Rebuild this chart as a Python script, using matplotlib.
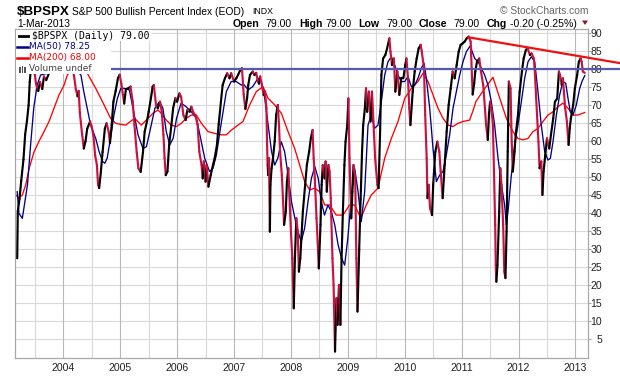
import matplotlib
matplotlib.use("Agg")
import matplotlib.pyplot as plt
import numpy as np
from matplotlib.collections import LineCollection
from matplotlib.patches import Rectangle, Polygon
from matplotlib.lines import Line2D

# ---------------- data (decimal years, index values) ----------------
price_dates = [
    2003.19, 2003.20, 2003.23, 2003.26, 2003.30, 2003.33, 2003.36, 2003.39, 2003.41, 2003.44,
    2003.47, 2003.50, 2003.52, 2003.56, 2003.59, 2003.63, 2003.66, 2003.70, 2003.75, 2003.80,
    2003.87, 2003.93, 2004.00, 2004.08, 2004.15, 2004.19, 2004.22, 2004.25, 2004.27, 2004.29,
    2004.33, 2004.36, 2004.39, 2004.42, 2004.47, 2004.50, 2004.53, 2004.56, 2004.59, 2004.61,
    2004.63, 2004.66, 2004.69, 2004.73, 2004.76, 2004.80, 2004.82, 2004.85, 2004.88, 2004.92,
    2004.96, 2004.99, 2005.02, 2005.07, 2005.10, 2005.14, 2005.18, 2005.22, 2005.25, 2005.29,
    2005.32, 2005.36, 2005.40, 2005.43, 2005.47, 2005.50, 2005.54, 2005.57, 2005.59, 2005.63,
    2005.66, 2005.70, 2005.73, 2005.76, 2005.78, 2005.80, 2005.83, 2005.86, 2005.90, 2005.93,
    2005.97, 2006.00, 2006.04, 2006.07, 2006.11, 2006.15, 2006.18, 2006.22, 2006.25, 2006.29,
    2006.32, 2006.36, 2006.39, 2006.43, 2006.45, 2006.47, 2006.50, 2006.52, 2006.55, 2006.59,
    2006.63, 2006.66, 2006.70, 2006.73, 2006.77, 2006.80, 2006.84, 2006.88, 2006.92, 2006.95,
    2007.00, 2007.04, 2007.07, 2007.11, 2007.14, 2007.17, 2007.20, 2007.23, 2007.25, 2007.28,
    2007.31, 2007.33, 2007.36, 2007.39, 2007.42, 2007.44, 2007.46, 2007.50, 2007.52, 2007.545,
    2007.57, 2007.58, 2007.59, 2007.60, 2007.615, 2007.63, 2007.64, 2007.66, 2007.685, 2007.715,
    2007.74, 2007.77, 2007.79, 2007.81, 2007.84, 2007.86, 2007.88, 2007.91, 2007.93, 2007.955,
    2007.98, 2008.00, 2008.025, 2008.05, 2008.07, 2008.095, 2008.12, 2008.14, 2008.165, 2008.19,
    2008.21, 2008.25, 2008.28, 2008.32, 2008.35, 2008.38, 2008.40, 2008.42, 2008.45, 2008.47,
    2008.49, 2008.52, 2008.54, 2008.56, 2008.59, 2008.61, 2008.63, 2008.66, 2008.68, 2008.70,
    2008.73, 2008.75, 2008.775, 2008.80, 2008.82, 2008.845, 2008.87, 2008.89, 2008.915, 2008.94,
    2008.96, 2008.99, 2009.01, 2009.03, 2009.06, 2009.08, 2009.10, 2009.13, 2009.15, 2009.17,
    2009.20, 2009.225, 2009.25, 2009.27, 2009.30, 2009.32, 2009.34, 2009.37, 2009.40, 2009.425,
    2009.45, 2009.48, 2009.52, 2009.54, 2009.566, 2009.59, 2009.62, 2009.66, 2009.69, 2009.73,
    2009.75, 2009.776, 2009.81, 2009.835, 2009.87, 2009.905, 2009.94, 2009.976, 2010.01, 2010.03,
    2010.058, 2010.08, 2010.10, 2010.14, 2010.175, 2010.21, 2010.245, 2010.28, 2010.30, 2010.339,
    2010.36, 2010.386, 2010.40, 2010.42, 2010.445, 2010.48, 2010.50, 2010.538, 2010.573, 2010.608,
    2010.632, 2010.667, 2010.702, 2010.737, 2010.772, 2010.808, 2010.843, 2010.878, 2010.913, 2010.948,
    2010.983, 2011.018, 2011.054, 2011.089, 2011.124, 2011.159, 2011.194, 2011.22, 2011.24, 2011.27,
    2011.31, 2011.34, 2011.38, 2011.41, 2011.43, 2011.46, 2011.48, 2011.50, 2011.53, 2011.55,
    2011.57, 2011.59, 2011.60, 2011.61, 2011.63, 2011.66, 2011.68, 2011.70, 2011.73, 2011.75,
    2011.77, 2011.79, 2011.81, 2011.83, 2011.86, 2011.88, 2011.90, 2011.93, 2011.95, 2011.99,
    2012.02, 2012.06, 2012.09, 2012.13, 2012.16, 2012.20, 2012.23, 2012.27, 2012.29, 2012.31,
    2012.35, 2012.37, 2012.40, 2012.42, 2012.44, 2012.47, 2012.50, 2012.54, 2012.57, 2012.61,
    2012.64, 2012.68, 2012.71, 2012.73, 2012.76, 2012.78, 2012.82, 2012.85, 2012.88, 2012.90,
    2012.92, 2012.96, 2012.99, 2013.03, 2013.06, 2013.09, 2013.11, 2013.13, 2013.164,
]
price_vals = [
    27.5, 40.5, 44, 49, 55, 62, 65.5, 70, 76.5, 82,
    84, 78.5, 76, 74, 76.5, 74.5, 78, 77, 79, 82,
    84, 83, 85, 83, 81, 78, 74.5, 72.5, 74, 68,
    62, 58, 60, 63.5, 65.5, 64, 61.5, 56, 53.5, 48,
    47, 51.5, 57, 63.5, 65, 62.5, 59.5, 64.5, 71, 74,
    77.5, 78.5, 76, 70.5, 74.5, 74.7, 75.2, 71, 64.6, 57,
    52.5, 51.5, 57, 62.7, 65.5, 68.2, 72, 75.2, 75.6, 70,
    69.2, 71, 68.2, 61.8, 55.3, 50.6, 51.6, 59, 64.6, 69.2,
    72, 71, 73.3, 72.4, 67.3, 65.9, 68.7, 68.2, 69.6, 67.8,
    67.3, 64.6, 57.1, 53.4, 49.7, 54.4, 48.8, 53.4, 47.4, 50.6,
    53.4, 55.3, 59, 64.6, 71, 75.6, 77.5, 78.9, 77.5, 78.9,
    76.6, 77.5, 78.4, 79.8, 80.3, 73, 69, 72, 75.6, 78.4,
    79, 79.4, 78.4, 79, 76.6, 76, 78, 74.7, 72.9, 73.8,
    69.2, 60, 53.4, 50.6, 55.3, 34.9, 47.9, 52.5, 55.3, 60,
    67.3, 70.1, 64.6, 57.1, 50.6, 44.2, 36.8, 40.5, 48.8, 52.5,
    42.3, 34.9, 27.5, 13.6, 27.5, 38.6, 34.9, 23.8, 27.5, 34.9,
    40.5, 47.9, 53.4, 57.1, 60.8, 63.1, 55.3, 49.7, 38.6, 32.1,
    24.7, 36.8, 47.9, 53.4, 49.7, 54.4, 46, 53.4, 51.6, 44.2,
    27.5, 20.1, 1.6, 16.4, 9, 20.1, 9, 27.5, 41.4, 53.4,
    59.9, 64.5, 71.9, 55.3, 38.6, 46, 53.4, 49.7, 27.5, 12.7,
    30, 44, 57.1, 64.5, 69.2, 74.7, 68.2, 73.8, 65.5, 73.8,
    65.5, 55.3, 47.9, 47, 61.8, 78.4, 83, 84, 85.8, 88.6,
    84.9, 81.2, 83, 73.8, 79.4, 72.9, 77.5, 77.5, 81.2, 83,
    77.5, 69.2, 64.5, 73.8, 79.4, 83, 85.8, 86.8, 84.9, 80.3,
    67.3, 55.3, 44.2, 47.9, 41.4, 39.5, 47.9, 57.1, 59.9, 57.1,
    51.6, 44.2, 53.4, 62.7, 70.1, 74.7, 79.4, 77.5, 81.2, 84.9,
    86.8, 87.2, 87.7, 88.6, 89.1, 87.7, 73, 76, 79.4, 82.1,
    83, 79.4, 75.6, 69.2, 64.5, 60.4, 67.3, 71, 68.2, 64.5,
    50.6, 36.8, 25.6, 21, 25.6, 40.5, 52.5, 47.9, 36.8, 23.8,
    22, 34.9, 57.1, 76.6, 74.7, 59.9, 51.6, 57.1, 61.8, 67.3,
    73.8, 79.4, 83, 85.4, 85.8, 84, 84.4, 83, 78.4, 72,
    59.9, 52.5, 54.4, 45.1, 51.6, 56.2, 60.8, 58, 61.8, 66.4,
    71, 71.9, 79.4, 78.4, 75.6, 77.5, 69.2, 65.5, 59, 63.6,
    66.4, 70.1, 74.7, 78.4, 82.1, 83, 82.1, 79.4, 79,
]

ma50_dates = [
    2003.19, 2003.22, 2003.28, 2003.37, 2003.43, 2003.48, 2003.54, 2003.60, 2003.72, 2003.85,
    2004.00, 2004.15, 2004.31, 2004.36, 2004.42, 2004.48, 2004.57, 2004.63, 2004.69, 2004.73,
    2004.77, 2004.83, 2004.89, 2004.95, 2005.01, 2005.07, 2005.16, 2005.225, 2005.313, 2005.40,
    2005.46, 2005.52, 2005.61, 2005.69, 2005.75, 2005.81, 2005.87, 2005.93, 2005.99, 2006.07,
    2006.16, 2006.25, 2006.34, 2006.40, 2006.485, 2006.57, 2006.63, 2006.69, 2006.78, 2006.865,
    2006.95, 2007.04, 2007.13, 2007.16, 2007.25, 2007.33, 2007.42, 2007.48, 2007.54, 2007.60,
    2007.66, 2007.715, 2007.77, 2007.83, 2007.89, 2007.95, 2008.01, 2008.07, 2008.125, 2008.18,
    2008.24, 2008.30, 2008.36, 2008.42, 2008.48, 2008.535, 2008.59, 2008.65, 2008.71, 2008.77,
    2008.83, 2008.89, 2008.945, 2009.00, 2009.06, 2009.12, 2009.18, 2009.237, 2009.296, 2009.355,
    2009.413, 2009.47, 2009.53, 2009.589, 2009.648, 2009.706, 2009.765, 2009.823, 2009.882, 2009.94,
    2010.00, 2010.058, 2010.116, 2010.175, 2010.233, 2010.292, 2010.339, 2010.38, 2010.439, 2010.497,
    2010.556, 2010.614, 2010.673, 2010.731, 2010.79, 2010.849, 2010.907, 2010.966, 2011.024, 2011.083,
    2011.15, 2011.23, 2011.29, 2011.346, 2011.405, 2011.464, 2011.522, 2011.58, 2011.64, 2011.70,
    2011.756, 2011.786, 2011.815, 2011.874, 2011.932, 2011.99, 2012.05, 2012.108, 2012.167, 2012.225,
    2012.284, 2012.342, 2012.40, 2012.46, 2012.518, 2012.56, 2012.606, 2012.665, 2012.723, 2012.78,
    2012.83, 2012.87, 2012.91, 2012.957, 2013.016, 2013.075, 2013.12, 2013.164,
]
ma50_vals = [
    46, 40, 38.6, 47.9, 59.9, 69.2, 75.6, 78.4, 78.9, 80.5,
    81.5, 81, 78.4, 73.8, 69.2, 64.5, 60.8, 57.1, 54.4, 53.9,
    55.3, 60.8, 67.3, 71.9, 74.7, 74.7, 74.3, 69.2, 61.8, 58,
    58.5, 62.7, 69.2, 71, 69.2, 62.7, 59, 60.8, 66.4, 70.6,
    69.6, 68.2, 66.4, 61.8, 55.3, 51.6, 52.5, 56.2, 65.5, 73.8,
    76.6, 76.6, 75.6, 76, 74.3, 75.2, 77.5, 76.6, 72, 64.5,
    57.1, 53.4, 55.3, 59.9, 57.1, 50.6, 43.2, 38.6, 34.9, 32.1,
    35.8, 43.2, 49.7, 53, 49.7, 43.2, 39.5, 42.3, 40.5, 36.8,
    31.2, 27.5, 25.6, 33.1, 44.2, 52.5, 46, 37.7, 46, 64.5,
    67.3, 63.6, 64.5, 71, 78.4, 82.1, 83.5, 81.2, 78.4, 76.6,
    76.6, 78, 75.2, 75.6, 77.5, 80.3, 81.7, 77.5, 69.2, 58,
    48.8, 50.6, 51.6, 56.2, 61.8, 69.2, 73.8, 78.4, 82.1, 84.9,
    86.5, 83, 82.1, 80.3, 78.4, 75.6, 71, 64.5, 55.3, 47.9,
    42.3, 36.8, 40.5, 50.6, 59, 64.5, 71, 77.5, 82.1, 83.5,
    82.1, 73.8, 64.5, 57.1, 54.8, 55.3, 59.9, 67.3, 72.9, 76.6,
    76.1, 71.9, 68.2, 67.3, 70.1, 74.7, 76.8, 78.25,
]

ma200_dates = [
    2003.163, 2003.222, 2003.28, 2003.34, 2003.40, 2003.486, 2003.573, 2003.661, 2003.749, 2003.837,
    2003.925, 2004.013, 2004.07, 2004.20, 2004.40, 2004.57, 2004.657, 2004.745, 2004.83, 2004.92,
    2005.01, 2005.10, 2005.137, 2005.254, 2005.371, 2005.459, 2005.576, 2005.664, 2005.72, 2005.81,
    2005.898, 2005.986, 2006.074, 2006.162, 2006.25, 2006.338, 2006.426, 2006.543, 2006.66, 2006.777,
    2006.865, 2006.953, 2007.07, 2007.158, 2007.275, 2007.392, 2007.51, 2007.597, 2007.715, 2007.832,
    2007.95, 2008.066, 2008.154, 2008.242, 2008.33, 2008.418, 2008.505, 2008.593, 2008.68, 2008.798,
    2008.915, 2009.03, 2009.12, 2009.23, 2009.325, 2009.413, 2009.53, 2009.648, 2009.765, 2009.882,
    2010.00, 2010.116, 2010.233, 2010.32, 2010.41, 2010.497, 2010.585, 2010.673, 2010.76, 2010.849,
    2010.937, 2011.024, 2011.141, 2011.20, 2011.25, 2011.376, 2011.55, 2011.67, 2011.786, 2011.903,
    2011.99, 2012.08, 2012.167, 2012.254, 2012.342, 2012.43, 2012.518, 2012.606, 2012.694, 2012.78,
    2012.87, 2012.957, 2013.045, 2013.164,
]
ma200_vals = [
    45.1, 44.2, 45.1, 47.9, 52.5, 57.1, 60, 62.7, 65.5, 69.2,
    72.9, 75.6, 78.4, 81, 79.5, 74.7, 72, 69.2, 66.4, 65,
    64.7, 64.5, 65, 66.4, 64.5, 65.9, 67.8, 68.7, 67.8, 65.9,
    64.5, 64.1, 65, 66.4, 67.3, 67.3, 65, 62.7, 62.2, 61.8,
    61.8, 63.1, 64.5, 65.5, 70.1, 73.8, 75.2, 72, 70.1, 67.8,
    62.7, 58, 53.4, 48.8, 46.5, 47, 46, 42.3, 42.3, 39.5,
    39.5, 42.3, 42.3, 38.6, 42.3, 45.1, 47, 55.3, 60.8, 65.5,
    71.9, 74.7, 76.6, 78.9, 76.6, 72.9, 69.2, 66.4, 64.5, 64.1,
    65, 65.5, 65.9, 68.5, 71, 74, 77.8, 72, 66.4, 62.7,
    60.8, 60.4, 60.8, 62.7, 63.6, 65.5, 67.3, 68.2, 69.6, 70.6,
    69.2, 67.3, 67.3, 68,
]

year_ticks = [2004, 2005, 2006, 2007, 2008, 2009, 2010, 2011, 2012, 2013]
year_labels = ["2004", "2005", "2006", "2007", "2008", "2009", "2010", "2011", "2012", "2013"]
y_ticks = [5, 10, 15, 20, 25, 30, 35, 40, 45, 50, 55, 60, 65, 70, 75, 80, 85, 90]
hline_level = 80
hline_dates = [2004.84, 2013.79]
trend_dates = [2011.12, 2013.79]
trend_vals = [88.9, 81.7]

# ---------------- figure ----------------
W, H = 620, 376
fig = plt.figure(figsize=(W / 100, H / 100), dpi=100)
fig.patch.set_facecolor("white")
SANS = ["Liberation Sans", "DejaVu Sans"]


def fx(px):
    return px / W


def fy(py):
    return 1 - py / H


ax = fig.add_axes([fx(15), fy(358), (588 - 15) / W, (358 - 29) / H])
ax.set_xlim(2003.151, 2013.221)
ax.set_ylim(-0.2, 91.2)
ax.set_facecolor("white")

# grid
for yv in y_ticks:
    ax.axhline(yv, color="#d9d9d9", lw=0.8, zorder=0)
for yr in np.arange(2003.5, 2013.3, 0.5):
    major = abs(yr - round(yr)) < 1e-6
    ax.axvline(yr, color="#b8b8b8" if major else "#d9d9d9", lw=0.8, zorder=0)

for s in ax.spines.values():
    s.set_color("#a8a8a8")
    s.set_linewidth(0.9)

# MAs
ax.plot(ma200_dates, ma200_vals, color="#ff0000", lw=0.95, zorder=2)
ax.plot(ma50_dates, ma50_vals, color="#00008b", lw=0.95, zorder=3)

# price line, black rising / crimson falling
pts = np.column_stack([price_dates, price_vals])
segs = np.stack([pts[:-1], pts[1:]], axis=1)
pv = np.array(price_vals)
cols = ["#000000" if d >= 0 else "#cc1040" for d in np.diff(pv)]
lc = LineCollection(segs, colors=cols, linewidths=1.55, zorder=4, capstyle="round", joinstyle="round")
ax.add_collection(lc)

# annotation lines
ax.plot(hline_dates, [hline_level, hline_level], color="#5858b0", lw=1.6, zorder=5, clip_on=False)
ax.plot(trend_dates, trend_vals, color="#ee1111", lw=1.6, zorder=5, clip_on=False)

# axes ticks
ax.yaxis.tick_right()
ax.set_yticks(y_ticks)
ax.set_yticklabels([str(v) for v in y_ticks], fontsize=7.6, family=SANS, color="#222222")
for lab in ax.get_yticklabels():
    lab.set_horizontalalignment("right")
ax.tick_params(axis="y", right=True, left=False, length=2, width=0.8, color="#a8a8a8", pad=8.2)
ax.set_xticks(year_ticks)
ax.set_xticklabels(year_labels, fontsize=7.6, family=SANS, color="#222222")
ax.tick_params(axis="x", length=0, pad=3.5)

# ---------------- legend box ----------------
fig.add_artist(Rectangle((fx(16.2), fy(73.5)), (111 - 16.2) / W, (73.5 - 29.8) / H,
                         transform=fig.transFigure, facecolor="white", edgecolor="none", zorder=2))
fig.add_artist(Rectangle((fx(110), fy(40.5)), (152 - 110) / W, (40.5 - 29.8) / H,
                         transform=fig.transFigure, facecolor="white", edgecolor="none", zorder=2))

fig.add_artist(Line2D([fx(19.5), fx(28)], [fy(36), fy(36)], transform=fig.transFigure,
                      color="black", lw=2.0, zorder=3))
fig.add_artist(Line2D([fx(17), fx(28)], [fy(46.5), fy(46.5)], transform=fig.transFigure,
                      color="#00008b", lw=1.8, zorder=3))
fig.add_artist(Line2D([fx(17), fx(28)], [fy(57.5), fy(57.5)], transform=fig.transFigure,
                      color="#ee0000", lw=1.8, zorder=3))
for bx, bh in [(19, 5), (21.5, 7), (24, 6)]:
    fig.add_artist(Rectangle((fx(bx), fy(72.5)), 1.8 / W, bh / H, transform=fig.transFigure,
                             facecolor="#555555", edgecolor="none", zorder=3))

fig.text(fx(31.5), fy(36), "$BPSPX (Daily) 79.00", family=["DejaVu Sans Mono"], fontsize=7.0,
         va="center", ha="left", color="black", zorder=4)
fig.text(fx(29.3), fy(46.5), "MA(50) 78.25", family=["DejaVu Sans"], fontsize=6.5,
         va="center", ha="left", color="#00008b", zorder=4)
fig.text(fx(29.3), fy(57.5), "MA(200) 68.00", family=["DejaVu Sans"], fontsize=6.5,
         va="center", ha="left", color="#ee0000", zorder=4)
fig.text(fx(29.3), fy(68.5), "Volume undef", family=["DejaVu Sans"], fontsize=6.5,
         va="center", ha="left", color="#444444", zorder=4)

# ---------------- header ----------------
fig.text(fx(17), fy(15), "$BPSPX", family=SANS, fontsize=9.6, fontweight="bold", va="baseline")
fig.text(fx(72), fy(15), "S&P 500 Bullish Percent Index (EOD)", family=SANS, fontsize=7.35, va="baseline")
fig.text(fx(252), fy(14.5), "INDX", family=SANS, fontsize=6.3, va="baseline")
fig.text(fx(588), fy(11), "\u00a9 StockCharts.com", family=SANS, fontsize=7.4, va="center",
         ha="right", color="#666666")
fig.text(fx(17), fy(27), "1-Mar-2013", family=SANS, fontsize=7.4, va="baseline")

hdr = [(233, "Open", True), (265, "79.00", False), (299, "High", True), (325, "79.00", False),
       (358, "Low", True), (386, "79.00", False), (419, "Close", True), (453, "79.00", False),
       (487, "Chg", True), (510, "-0.20 (-0.25%)", False)]
for xp, txt, bold in hdr:
    fig.text(fx(xp), fy(27), txt, family=SANS, fontsize=7.6 if bold else 7.6,
             fontweight="bold" if bold else "normal", va="baseline")
fig.add_artist(Polygon([[fx(582), fy(20.5)], [fx(588), fy(20.5)], [fx(585), fy(25)]],
                       closed=True, transform=fig.transFigure, facecolor="#8b1a2a",
                       edgecolor="none", zorder=4))

fig.savefig("out.png", dpi=100, facecolor="white")
